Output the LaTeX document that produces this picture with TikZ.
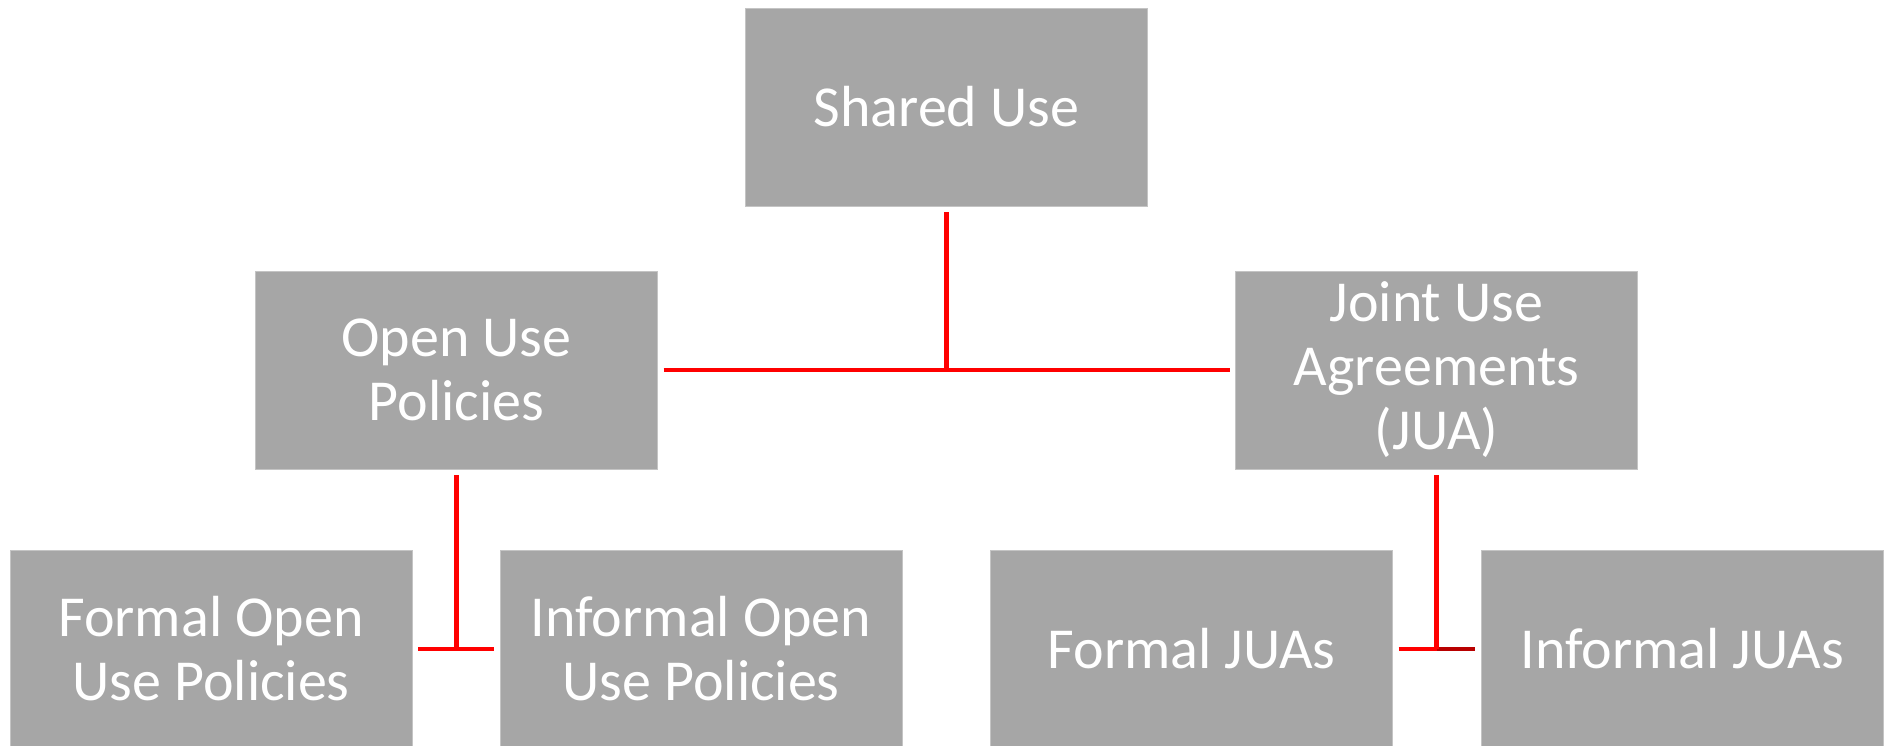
\documentclass[tikz,border=0pt]{standalone}
\usepackage{fontspec}
\setmainfont{Carlito}
\definecolor{boxgray}{HTML}{A6A6A6}
\definecolor{boxedge}{HTML}{C4C4C4}
\definecolor{linkred}{HTML}{FF0000}
\definecolor{linkdark}{HTML}{B80000}
\tikzset{
  catbox/.style={rectangle, fill=boxgray, draw=boxedge, line width=1pt,
    minimum width=402pt, minimum height=198pt, inner sep=0pt, outer sep=0pt,
    align=center, text=white, font=\fontsize{58}{64}\selectfont},
  link/.style={draw=linkred, line width=4.5pt},
  gapstart/.style={shorten <=6pt},
  gapboth/.style={shorten <=6pt, shorten >=6pt}
}
\begin{document}
\begin{tikzpicture}[x=1pt,y=-1pt]
  \useasboundingbox (0,0) rectangle (1885,745);
  \clip (0,0) rectangle (1885,745);

  % top level
  \node[catbox] (shared) at (946.5,107) {Shared Use};

  % second level
  \node[catbox] (open) at (456.5,370) {Open Use\\Policies};
  \node[catbox] (jua)  at (1436.5,370) {Joint Use\\Agreements\\(JUA)};

  % third level
  \node[catbox] (fopen) at (211,649) {Formal Open\\Use Policies};
  \node[catbox] (iopen) at (701,649) {Informal Open\\Use Policies};
  \node[catbox] (fjua)  at (1191.5,649) {Formal JUAs};
  \node[catbox] (ijua)  at (1682,649) {Informal JUAs};

  % junction points
  \coordinate (j1) at (shared.south |- open.east);
  \coordinate (j2) at (open.south |- fopen.east);
  \coordinate (j3) at (jua.south |- fjua.east);

  % Shared Use branch
  \draw[link, gapstart] (shared.south) -- (j1);
  \draw[link, gapboth] (open.east) -- (jua.west);

  % Open Use branch
  \draw[link, gapstart] (open.south) -- (j2);
  \draw[link, gapboth] (fopen.east) -- (iopen.west);

  % Joint Use branch
  \draw[link, gapstart] (fjua.east) -- (j3);
  \draw[link, draw=linkdark, shorten >=6pt] (j3) -- (ijua.west);
  \draw[link, gapstart] (jua.south) -- (j3);
\end{tikzpicture}
\end{document}
